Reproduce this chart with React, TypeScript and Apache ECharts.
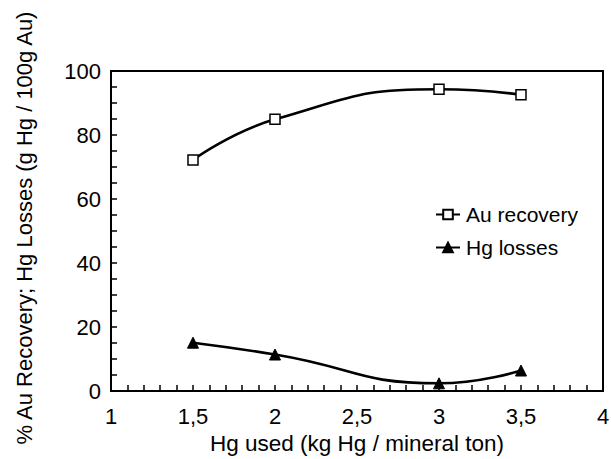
import React, { useEffect, useRef } from "react";
import * as echarts from "echarts";

const hgUsed = [1.5, 2, 3, 3.5];
const auRecovery = [72.2, 84.9, 94.3, 92.6];
const hgLosses = [15.1, 11.4, 2.4, 6.4];
const seriesNames = ["Au recovery", "Hg losses"];
const xTitle = "Hg used (kg Hg / mineral ton)";
const yTitle = "% Au Recovery; Hg Losses (g Hg / 100g Au)";

const FONT = "Liberation Sans, Arial, sans-serif";

export default function App() {
  const ref = useRef<HTMLDivElement>(null);
  useEffect(() => {
    if (!ref.current) return;
    const chart = echarts.init(ref.current, undefined, { renderer: "svg" });
    chart.setOption({
      animation: false,
      backgroundColor: "#fff",
      textStyle: { fontFamily: FONT, color: "#000" },
      grid: {
        left: 111,
        right: 8,
        top: 71,
        bottom: 68,
        outerBoundsMode: "none",
        containLabel: false,
        show: true,
        borderColor: "#000",
        borderWidth: 2,
        backgroundColor: "transparent",
      },
      legend: {
        orient: "vertical",
        left: 430,
        top: 199,
        itemWidth: 24,
        itemHeight: 12,
        itemGap: 12,
        textStyle: { fontSize: 21, color: "#000", fontFamily: FONT, padding: [0, 0, 0, 1] },
        data: seriesNames,
      },
      xAxis: {
        type: "value",
        min: 1,
        max: 4,
        interval: 0.5,
        name: xTitle,
        nameLocation: "middle",
        nameGap: 40,
        nameTextStyle: { fontSize: 22.5, color: "#000", fontFamily: FONT, lineHeight: 24 },
        axisLine: { show: true, lineStyle: { color: "#000", width: 2 } },
        axisTick: { show: true, inside: true, length: 6, lineStyle: { color: "#000", width: 1.5 } },
        minorTick: { show: true, splitNumber: 5, length: 6, lineStyle: { color: "#000", width: 1.5 } },
        splitLine: { show: false },
        axisLabel: {
          fontSize: 22,
          color: "#000",
          fontFamily: FONT,
          margin: 14,
          formatter: (v: number) => String(v).replace(".", ","),
        },
      },
      yAxis: {
        type: "value",
        min: 0,
        max: 100,
        interval: 20,
        axisLine: { show: true, lineStyle: { color: "#000", width: 2 } },
        axisTick: { show: true, inside: true, length: 6, lineStyle: { color: "#000", width: 1.5 } },
        minorTick: { show: true, splitNumber: 4, length: 6, lineStyle: { color: "#000", width: 1.5 } },
        splitLine: { show: false },
        axisLabel: { fontSize: 22, color: "#000", fontFamily: FONT, margin: 10 },
      },
      graphic: [
        {
          type: "text",
          x: 24,
          y: 228,
          rotation: Math.PI / 2,
          style: {
            text: yTitle,
            fontSize: 22,
            fontFamily: FONT,
            fill: "#000",
            align: "center",
            verticalAlign: "middle",
          },
        },
      ],
      series: [
        {
          name: seriesNames[0],
          type: "line",
          smooth: true,
          data: hgUsed.map((x, i) => [x, auRecovery[i]]),
          symbol: "rect",
          symbolSize: 10,
          lineStyle: { color: "#000", width: 2.6 },
          itemStyle: { color: "#fff", borderColor: "#000", borderWidth: 1.5 },
          z: 3,
        },
        {
          name: seriesNames[1],
          type: "line",
          smooth: true,
          data: hgUsed.map((x, i) => [x, hgLosses[i]]),
          symbol: "triangle",
          symbolSize: 11,
          lineStyle: { color: "#000", width: 2.6 },
          itemStyle: { color: "#000", borderColor: "#000", borderWidth: 1 },
          z: 3,
        },
      ],
    });
    return () => chart.dispose();
  }, []);
  return <div ref={ref} style={{ width: 611, height: 459, position: "absolute", left: 0, top: 0 }} />;
}
